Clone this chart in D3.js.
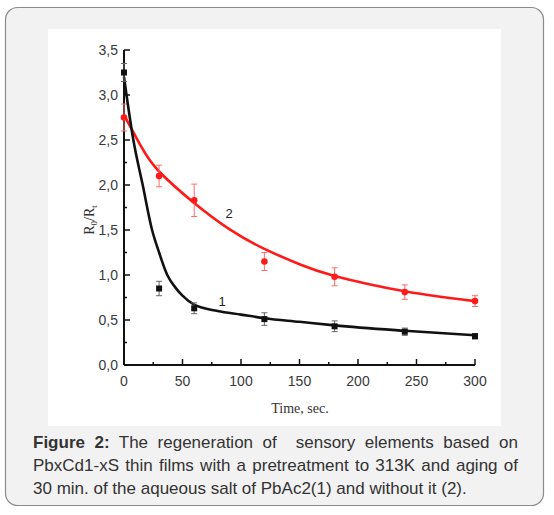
<!DOCTYPE html>
<html lang="en">
<head>
    <meta charset="utf-8">
    <script src="https://cdn.jsdelivr.net/npm/d3@7"></script>
    <style>
        body { margin: 0; background: #fff; position: relative; }
        .tick-label { font-family: "Liberation Sans", Arial, sans-serif; font-size: 14px; fill: #3a3a3a; }
        .axis-title { font-family: "Liberation Serif", "Times New Roman", serif; font-size: 14px; fill: #333; }
        #caption {
            position: absolute;
            left: 33px; top: 431px; width: 485px;
            font-family: "Liberation Sans", Arial, sans-serif;
            font-size: 17px; line-height: 23px; color: #333;
        }
        #caption div { text-align: justify; white-space: pre-wrap; }
        #caption div.full { text-align-last: justify; }
    </style>
</head>
<body>
<div id="caption"></div>
<script type="text/javascript">
    // measured points (time, value, error)
    var timePts = [0, 30, 60, 120, 180, 240, 300];
    var black = [3.25, 0.85, 0.63, 0.51, 0.43, 0.37, 0.32];
    var blackErr = [0.1, 0.08, 0.06, 0.07, 0.06, 0.04, 0.03];
    var red = [2.75, 2.1, 1.83, 1.15, 0.98, 0.81, 0.71];
    var redErr = [0.15, 0.12, 0.18, 0.1, 0.1, 0.08, 0.06];

    // fitted curves
    var fit1T = [0, 8, 16, 24, 30, 37, 44, 50, 60, 80, 100, 120, 150, 180, 240, 300];
    var fit1V = [3.2, 2.5, 2.0, 1.5, 1.25, 1.0, 0.86, 0.77, 0.67, 0.6, 0.56, 0.52, 0.48, 0.44, 0.38, 0.33];
    var fit2T = [0, 15, 30, 60, 90, 120, 150, 180, 240, 300];
    var fit2V = [2.78, 2.42, 2.15, 1.8, 1.51, 1.29, 1.12, 0.99, 0.82, 0.71];

    var xTicks = [0, 50, 100, 150, 200, 250, 300];
    var yTicks = [0, 0.5, 1, 1.5, 2, 2.5, 3, 3.5];

    var captionLines = [
        ["Figure 2:", " The regeneration of  sensory elements based on"],
        ["", "PbxCd1-xS thin films with a pretreatment to 313K and aging of"],
        ["", "30 min. of the aqueous salt of PbAc2(1) and without it (2)."]
    ];

    var width = 554, height = 515;
    var x = d3.scaleLinear().domain([0, 300]).range([124, 475]);
    var y = d3.scaleLinear().domain([0, 3.5]).range([365, 50]);

    var svg = d3.select("body").insert("svg", "#caption")
        .attr("width", width)
        .attr("height", height)
        .style("display", "block");

    // frame
    svg.append("rect")
        .attr("x", 5.5).attr("y", 7.5)
        .attr("width", 538).attr("height", 498)
        .attr("rx", 12)
        .style("fill", "#f2f2f2")
        .style("stroke", "#8a8a8a")
        .style("stroke-width", 1.2);

    svg.append("rect")
        .attr("x", 48).attr("y", 29)
        .attr("width", 453).attr("height", 397)
        .style("fill", "#fff");

    // axes lines
    svg.append("line")
        .attr("x1", x(0)).attr("x2", x(0))
        .attr("y1", y(3.5)).attr("y2", y(0))
        .style("stroke", "#111").style("stroke-width", 2);
    svg.append("line")
        .attr("x1", x(0)).attr("x2", x(300))
        .attr("y1", y(0)).attr("y2", y(0))
        .style("stroke", "#111").style("stroke-width", 2);

    // y ticks (major + minor, pointing inward)
    var yMinor = d3.range(0.25, 3.5, 0.5);
    svg.selectAll(".ytick")
        .data(yTicks).enter().append("line")
        .attr("x1", x(0)).attr("x2", x(0) + 6)
        .attr("y1", function (d) { return y(d); })
        .attr("y2", function (d) { return y(d); })
        .style("stroke", "#111").style("stroke-width", 1.5);
    svg.selectAll(".yminor")
        .data(yMinor).enter().append("line")
        .attr("x1", x(0)).attr("x2", x(0) + 3)
        .attr("y1", function (d) { return y(d); })
        .attr("y2", function (d) { return y(d); })
        .style("stroke", "#111").style("stroke-width", 1.5);
    svg.selectAll(".ylabel")
        .data(yTicks).enter().append("text")
        .attr("class", "tick-label")
        .attr("x", x(0) - 6)
        .attr("y", function (d) { return y(d) + 5; })
        .attr("text-anchor", "end")
        .text(function (d) { return d3.format(".1f")(d).replace(".", ","); });

    // x ticks
    var xMinor = d3.range(25, 300, 50);
    svg.selectAll(".xtick")
        .data(xTicks).enter().append("line")
        .attr("x1", function (d) { return x(d); })
        .attr("x2", function (d) { return x(d); })
        .attr("y1", y(0)).attr("y2", y(0) - 6)
        .style("stroke", "#111").style("stroke-width", 1.5);
    svg.selectAll(".xminor")
        .data(xMinor).enter().append("line")
        .attr("x1", function (d) { return x(d); })
        .attr("x2", function (d) { return x(d); })
        .attr("y1", y(0)).attr("y2", y(0) - 3)
        .style("stroke", "#111").style("stroke-width", 1.5);
    svg.selectAll(".xlabel")
        .data(xTicks).enter().append("text")
        .attr("class", "tick-label")
        .attr("x", function (d) { return x(d); })
        .attr("y", y(0) + 21)
        .attr("text-anchor", "middle")
        .text(function (d) { return d; });

    // axis titles
    svg.append("text")
        .attr("class", "axis-title")
        .attr("x", 300).attr("y", 413)
        .attr("text-anchor", "middle")
        .text("Time, sec.");

    var yTitle = svg.append("text")
        .attr("class", "axis-title")
        .attr("transform", "translate(94,220) rotate(-90)")
        .attr("text-anchor", "middle");
    yTitle.append("tspan").text("R");
    yTitle.append("tspan").attr("dy", 3).style("font-size", "9px").text("0");
    yTitle.append("tspan").attr("dy", -3).text("/R");
    yTitle.append("tspan").attr("dy", 3).style("font-size", "9px").text("t");

    function drawSeries(fitT, fitV, vals, errs, color, errColor, square, curve) {
        var line = d3.line()
            .x(function (d) { return x(d[0]); })
            .y(function (d) { return y(d[1]); })
            .curve(curve);

        svg.append("path")
            .datum(fitT.map(function (t, i) { return [t, fitV[i]]; }))
            .attr("d", line)
            .style("fill", "none")
            .style("stroke", color)
            .style("stroke-width", 2.6);

        var pts = timePts.map(function (t, i) { return [t, vals[i], errs[i]]; });
        var g = svg.append("g");
        g.selectAll(".err")
            .data(pts).enter().append("path")
            .attr("d", function (d) {
                var cx = x(d[0]), y1 = y(d[1] + d[2]), y2 = y(d[1] - d[2]);
                return "M" + cx + "," + y1 + "V" + y2 +
                    "M" + (cx - 3) + "," + y1 + "H" + (cx + 3) +
                    "M" + (cx - 3) + "," + y2 + "H" + (cx + 3);
            })
            .style("fill", "none")
            .style("stroke", errColor)
            .style("stroke-width", 1);
        if (square) {
            g.selectAll(".pt")
                .data(pts).enter().append("rect")
                .attr("x", function (d) { return x(d[0]) - 3; })
                .attr("y", function (d) { return y(d[1]) - 3; })
                .attr("width", 6).attr("height", 6)
                .style("fill", color);
        } else {
            g.selectAll(".pt")
                .data(pts).enter().append("circle")
                .attr("cx", function (d) { return x(d[0]); })
                .attr("cy", function (d) { return y(d[1]); })
                .attr("r", 3.3)
                .style("fill", color);
        }
    }

    drawSeries(fit2T, fit2V, red, redErr, "#ff1a1a", "#ff6b6b", false, d3.curveNatural);
    drawSeries(fit1T, fit1V, black, blackErr, "#111", "#666", true, d3.curveMonotoneX);

    // curve labels
    svg.append("text")
        .attr("x", 229).attr("y", 218)
        .attr("text-anchor", "middle")
        .style("font-family", "Liberation Sans, Arial, sans-serif")
        .style("font-size", "13px").style("fill", "#222")
        .text("2");
    svg.append("text")
        .attr("x", 222).attr("y", 306)
        .attr("text-anchor", "middle")
        .style("font-family", "Liberation Sans, Arial, sans-serif")
        .style("font-size", "13px").style("fill", "#222")
        .text("1");

    // caption (first two lines justified to full width)
    var cap = d3.select("#caption");
    captionLines.forEach(function (l, i) {
        var row = cap.append("div").classed("full", i < 2);
        if (l[0]) row.append("b").text(l[0]);
        row.append("span").text(l[1]);
    });
</script>
</body>
</html>
